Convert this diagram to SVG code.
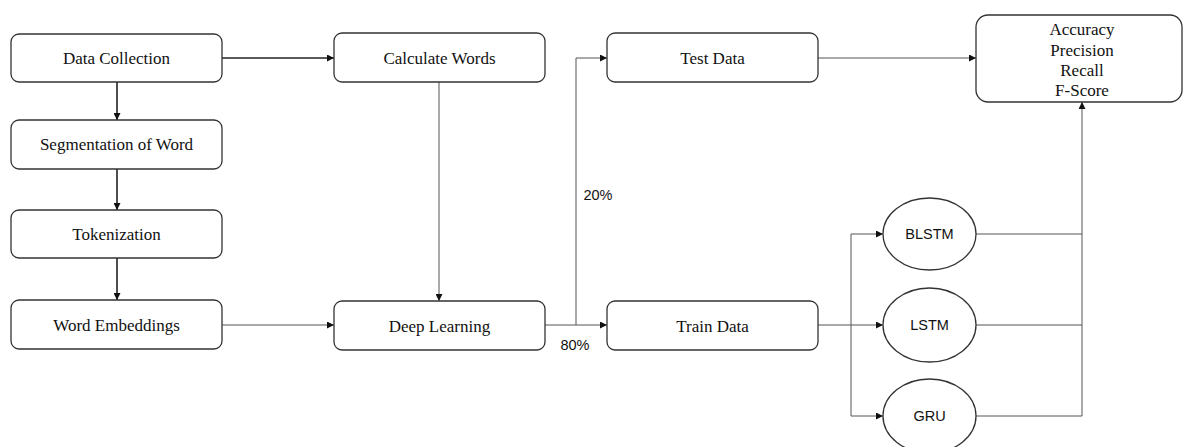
<svg xmlns="http://www.w3.org/2000/svg" width="1186" height="447" viewBox="0 0 1186 447">
<style>
.box{fill:#fff;stroke:#333;stroke-width:1.3}
.t{font-family:"Liberation Serif",serif;font-size:17px;fill:#111;text-anchor:middle}
.s{font-family:"Liberation Sans",sans-serif;font-size:14.5px;fill:#111;text-anchor:middle}
.c{fill:none;stroke:#555;stroke-width:1}
.cb{fill:none;stroke:#222;stroke-width:1.6}
</style>
<defs>
<marker id="a" viewBox="0 0 10 10" refX="10" refY="5" markerWidth="7" markerHeight="7" markerUnits="userSpaceOnUse" orient="auto"><path d="M0,0 L10,5 L0,10 Z" fill="#111"/></marker>
</defs>
<rect width="1186" height="447" fill="#fff"/>
<g id="connectors">
<path class="cb" d="M117,82 V120" marker-end="url(#a)"/>
<path class="cb" d="M117,169 V210" marker-end="url(#a)"/>
<path class="cb" d="M117,258 V300" marker-end="url(#a)"/>
<path class="cb" d="M222,58 H334" marker-end="url(#a)"/>
<path class="c" d="M222,325 H334" marker-end="url(#a)"/>
<path class="c" d="M439,82 V301" marker-end="url(#a)"/>
<path class="c" d="M545,325 H607" marker-end="url(#a)"/>
<path class="c" d="M576,325 V58 H607" marker-end="url(#a)"/>
<path class="c" d="M818,58 H976" marker-end="url(#a)"/>
<path class="c" d="M818,325 H883" marker-end="url(#a)"/>
<path class="c" d="M851,325 V234 H883" marker-end="url(#a)"/>
<path class="c" d="M851,325 V416 H883" marker-end="url(#a)"/>
<path class="c" d="M976,234 H1082"/>
<path class="c" d="M976,325 H1082"/>
<path class="c" d="M976,416 H1082 V102" marker-end="url(#a)"/>
<text class="s" x="598" y="200">20%</text>
<text class="s" x="575" y="350">80%</text>
</g>
<g id="data-collection"><rect class="box" x="11" y="34" width="211" height="48" rx="8"/><text class="t" x="116.5" y="64">Data Collection</text></g>
<g id="segmentation"><rect class="box" x="11" y="120" width="211" height="49" rx="8"/><text class="t" x="116.5" y="150">Segmentation of Word</text></g>
<g id="tokenization"><rect class="box" x="11" y="210" width="211" height="48" rx="8"/><text class="t" x="116.5" y="240">Tokenization</text></g>
<g id="word-embeddings"><rect class="box" x="11" y="300" width="211" height="49" rx="8"/><text class="t" x="116.5" y="331">Word Embeddings</text></g>
<g id="calculate-words"><rect class="box" x="334" y="33" width="211" height="49" rx="8"/><text class="t" x="439.5" y="64">Calculate Words</text></g>
<g id="deep-learning"><rect class="box" x="334" y="301" width="211" height="49" rx="8"/><text class="t" x="439.5" y="332">Deep Learning</text></g>
<g id="test-data"><rect class="box" x="607" y="33" width="211" height="49" rx="8"/><text class="t" x="712.5" y="64">Test Data</text></g>
<g id="train-data"><rect class="box" x="607" y="301" width="211" height="49" rx="8"/><text class="t" x="712.5" y="332">Train Data</text></g>
<g id="metrics"><rect class="box" x="976" y="15" width="206" height="87" rx="12"/>
<text class="t" x="1082" y="35">Accuracy</text><text class="t" x="1082" y="56">Precision</text><text class="t" x="1082" y="76">Recall</text><text class="t" x="1082" y="96">F-Score</text></g>
<g id="blstm"><ellipse class="box" cx="929.5" cy="234" rx="46.5" ry="36"/><text class="s" x="929.5" y="239">BLSTM</text></g>
<g id="lstm"><ellipse class="box" cx="929.5" cy="325" rx="46.5" ry="37"/><text class="s" x="929.5" y="330">LSTM</text></g>
<g id="gru"><ellipse class="box" cx="929.5" cy="416" rx="46.5" ry="37"/><text class="s" x="929.5" y="421">GRU</text></g>
</svg>
